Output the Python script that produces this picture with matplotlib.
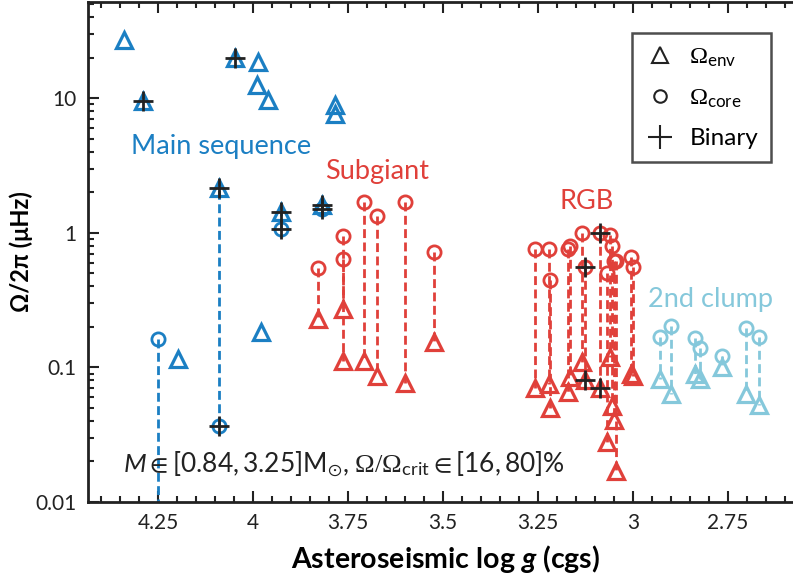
import numpy as np
import matplotlib
matplotlib.use("Agg")
import matplotlib.pyplot as plt
from matplotlib.lines import Line2D
from matplotlib.ticker import FixedLocator, MultipleLocator, FuncFormatter

plt.rcParams['font.family'] = ['Lato', 'DejaVu Sans']
plt.rcParams['mathtext.fontset'] = 'custom'
plt.rcParams['mathtext.rm'] = 'Liberation Serif'
plt.rcParams['mathtext.sf'] = 'Lato'
plt.rcParams['mathtext.it'] = 'Lato:italic'
plt.rcParams['mathtext.bf'] = 'Lato:bold'
plt.rcParams['mathtext.bfit'] = 'Lato:bold:italic'
plt.rcParams['mathtext.fallback'] = 'stixsans'

nan = np.nan

# main sequence stars: log g, envelope and core rotation (muHz), binary flag
ms_logg = [4.34, 4.29, 4.047, 3.987, 3.99, 3.96, 3.784, 3.784, 4.09, 3.926, 3.818, 4.25, 4.197, 3.979]
ms_env = [27, 9.5, 20, 18.5, 12.5, 9.7, 8.9, 7.6, 2.15, 1.43, 1.6, 0.003, 0.116, 0.184]
ms_core = [nan, nan, nan, nan, nan, nan, nan, nan, 0.037, 1.07, 1.5, 0.163, nan, nan]
ms_bin = [0, 1, 1, 0, 0, 0, 0, 0, 1, 1, 1, 0, 0, 0]

# subgiants
sg_logg = [3.829, 3.763, 3.763, 3.708, 3.674, 3.600, 3.524]
sg_env = [0.23, 0.112, 0.27, 0.112, 0.086, 0.076, 0.155]
sg_core = [0.55, 0.95, 0.64, 1.70, 1.34, 1.70, 0.72]
sg_bin = [0, 0, 0, 0, 0, 0, 0]

# red giant branch
rgb_logg = [3.258, 3.221, 3.218, 3.172, 3.165, 3.134, 3.126, 3.087, 3.062, 3.055, 3.050, 3.068, 3.045, 3.005, 3.000]
rgb_env = [0.070, 0.075, 0.050, 0.066, 0.085, 0.11, 0.080, 0.070, 0.12, 0.052, 0.041, 0.028, 0.017, 0.090, 0.086]
rgb_core = [0.76, 0.76, 0.45, 0.76, 0.80, 1.0, 0.56, 1.0, 0.96, 0.80, 0.62, 0.50, 0.62, 0.66, 0.56]
rgb_bin = [0, 0, 0, 0, 0, 0, 1, 1, 0, 0, 0, 0, 0, 0, 0]

# second clump
cl_logg = [2.928, 2.899, 2.838, 2.824, 2.766, 2.702, 2.668]
cl_env = [0.082, 0.064, 0.089, 0.082, 0.101, 0.064, 0.053]
cl_core = [0.169, 0.204, 0.165, 0.14, 0.122, 0.197, 0.169]
cl_bin = [0, 0, 0, 0, 0, 0, 0]

groups = [
    (ms_logg, ms_env, ms_core, ms_bin, '#1b7fc3'),
    (sg_logg, sg_env, sg_core, sg_bin, '#e0403a'),
    (rgb_logg, rgb_env, rgb_core, rgb_bin, '#e0403a'),
    (cl_logg, cl_env, cl_core, cl_bin, '#85c8db'),
]

fig = plt.figure(figsize=(7.93, 5.84), dpi=100)
ax = fig.add_axes([88 / 793, 1 - 502 / 584, 716 / 793, 500 / 584])

for logg, env, core, binary, col in groups:
    for x, e, c, b in zip(logg, env, core, binary):
        if not np.isnan(c):
            ax.plot([x, x], [c, e], color=col, lw=2, ls=(0, (3.2, 1.6)), zorder=2)
            ax.plot(x, c, 'o', ms=9.5, mfc='none', mec=col, mew=2, zorder=3)
            if b:
                ax.plot(x, c, '+', ms=15, mec='#222222', mew=2, zorder=4)
        ax.plot(x, e, '^', ms=11, mfc='none', mec=col, mew=2.3, zorder=3)
        if b:
            ax.plot(x, e, '+', ms=15, mec='#222222', mew=2, zorder=4)

ax.set_yscale('log')
ax.set_ylim(0.01, 52)
ax.set_xlim(4.435, 2.55)

ax.xaxis.set_major_locator(FixedLocator([4.25, 4.0, 3.75, 3.5, 3.25, 3.0, 2.75]))
ax.xaxis.set_minor_locator(MultipleLocator(0.05))
ax.xaxis.set_major_formatter(FuncFormatter(lambda v, p: ('%g' % v)))
ax.yaxis.set_major_formatter(FuncFormatter(lambda v, p: ('%g' % v)))

ax.tick_params(which='both', direction='in', top=True, right=True, width=1.5, labelsize=15, colors='#222222')
ax.tick_params(which='major', length=8, pad=8)
ax.tick_params(which='minor', length=4.5)
for s in ax.spines.values():
    s.set_linewidth(2)
    s.set_color('#222222')

ax.set_xlabel(r'Asteroseismic log $\mathbfit{g}$ (cgs)', fontsize=20.5, fontweight='bold', labelpad=7)
ax.set_ylabel('Ω/2π (μHz)', fontsize=17, fontweight='bold', labelpad=2)

ax.text(4.084, 4.4, 'Main sequence', color='#1b7fc3', fontsize=19.5, ha='center', va='center')
ax.text(3.674, 2.85, 'Subgiant', color='#e0403a', fontsize=19.5, ha='center', va='center')
ax.text(3.121, 1.70, 'RGB', color='#e0403a', fontsize=19.5, ha='center', va='center')
ax.text(2.795, 0.32, '2nd clump', color='#85c8db', fontsize=19.5, ha='center', va='center')
ax.text(4.342, 0.0192,
        r'$M \mathsf{\in [0.84,3.25]M}_{\odot}\mathsf{,}\ \Omega/\Omega_{\mathsf{crit}} \mathsf{\in [16,80]\%}$',
        fontsize=19, ha='left', va='center', color='#222222')

handles = [
    Line2D([], [], ls='none', marker='^', ms=11, mfc='none', mec='#222222', mew=1.5),
    Line2D([], [], ls='none', marker='o', ms=9, mfc='none', mec='#222222', mew=1.5),
    Line2D([], [], ls='none', marker='+', ms=17, mec='#222222', mew=1.5),
]
labels = [r'$\Omega_{\mathsf{env}}$', r'$\Omega_{\mathsf{core}}$', 'Binary']
leg = ax.legend(handles, labels, loc='upper left', bbox_to_anchor=(0.76, 0.938), borderaxespad=0,
                fontsize=17.5, frameon=True, fancybox=False, edgecolor='#222222',
                handlelength=1.2, handletextpad=0.6, labelspacing=0.75, borderpad=0.55)
leg.get_frame().set_linewidth(1.8)

fig.savefig('out.png', dpi=100)
